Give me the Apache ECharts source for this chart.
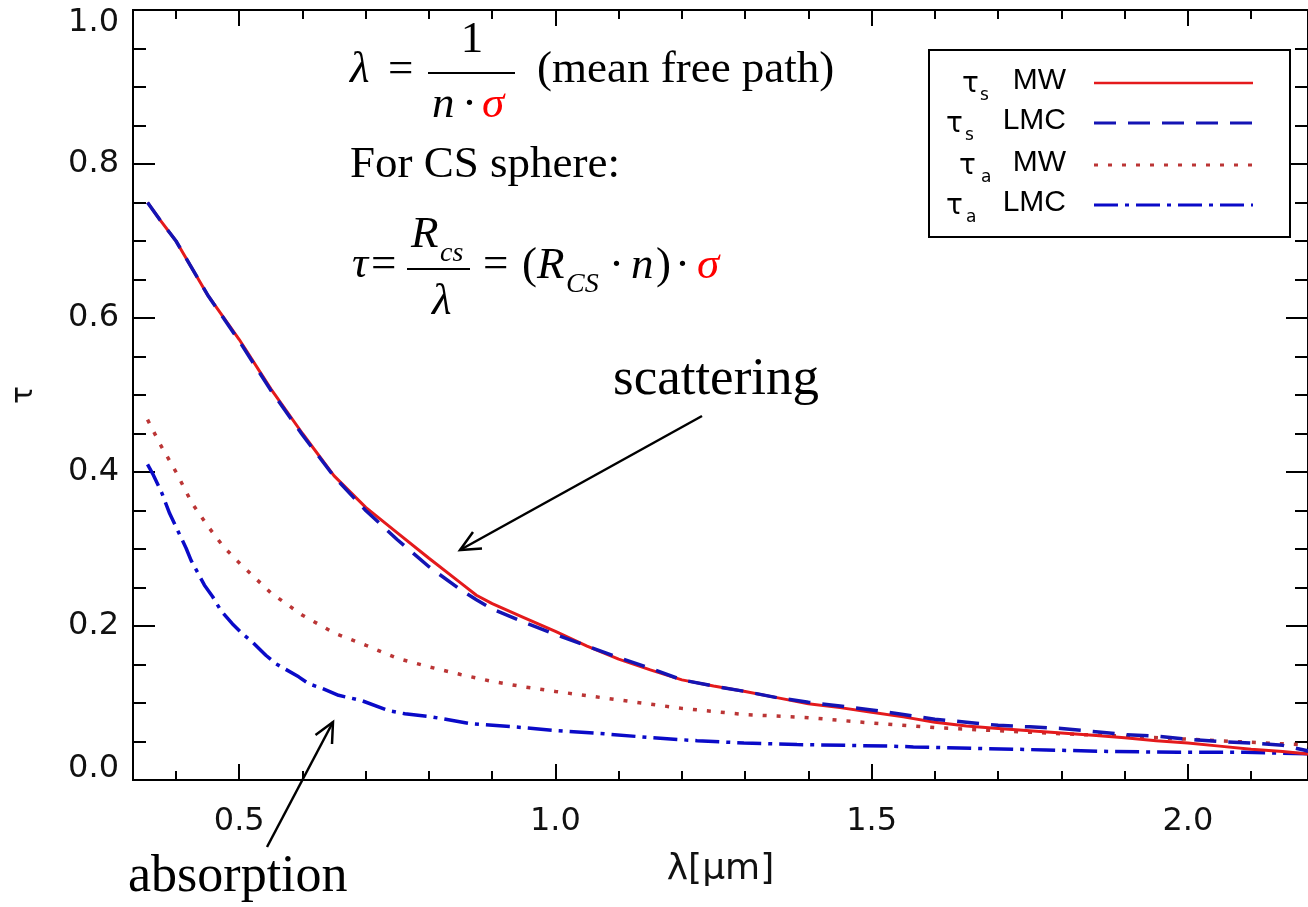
<!DOCTYPE html>
<html><head><meta charset="utf-8">
<script src="https://cdn.jsdelivr.net/npm/echarts@6/dist/echarts.min.js"></script>
<style>html,body{margin:0;padding:0;background:#fff}#c{width:1308px;height:907px}</style>
</head><body><div id="c"></div>
<script>
// ---- data (λ in µm, τ) ----
const sMW_x = [0.355,0.375,0.40,0.45,0.50,0.55,0.60,0.65,0.70,0.75,0.80,0.85,0.875,0.90,0.95,1.00,1.05,1.10,1.15,1.20,1.25,1.30,1.35,1.40,1.45,1.50,1.55,1.60,1.65,1.70,1.75,1.80,1.85,1.90,1.95,2.00,2.05,2.10,2.15,2.20];
const sMW_y = [0.750,0.727,0.700,0.630,0.572,0.508,0.450,0.395,0.354,0.321,0.288,0.256,0.240,0.229,0.211,0.193,0.174,0.157,0.143,0.130,0.122,0.115,0.107,0.099,0.094,0.088,0.082,0.075,0.070,0.067,0.064,0.061,0.058,0.055,0.051,0.048,0.044,0.040,0.037,0.033];

const sLMC_x = [0.355,0.375,0.40,0.45,0.50,0.55,0.60,0.65,0.70,0.75,0.80,0.85,0.875,0.90,0.95,1.00,1.05,1.10,1.15,1.20,1.25,1.30,1.35,1.40,1.45,1.50,1.55,1.60,1.65,1.70,1.75,1.80,1.85,1.90,1.95,2.00,2.05,2.10,2.15,2.20];
const sLMC_y = [0.750,0.727,0.700,0.630,0.570,0.506,0.448,0.394,0.350,0.312,0.277,0.247,0.234,0.222,0.205,0.189,0.174,0.159,0.145,0.130,0.122,0.115,0.107,0.101,0.096,0.091,0.085,0.079,0.075,0.071,0.069,0.067,0.063,0.059,0.057,0.053,0.050,0.048,0.045,0.036];

const aMW_x = [0.355,0.375,0.40,0.425,0.45,0.475,0.50,0.55,0.60,0.65,0.70,0.75,0.80,0.85,0.90,0.95,1.00,1.10,1.20,1.30,1.40,1.50,1.60,1.70,1.80,1.90,2.00,2.10,2.20];
const aMW_y = [0.468,0.436,0.400,0.360,0.330,0.303,0.282,0.243,0.214,0.191,0.175,0.158,0.147,0.137,0.128,0.121,0.115,0.104,0.093,0.085,0.081,0.074,0.068,0.064,0.060,0.057,0.053,0.049,0.045];

const aLMC_x = [0.355,0.363,0.377,0.39,0.405,0.416,0.424,0.445,0.458,0.471,0.489,0.505,0.521,0.542,0.558,0.594,0.61,0.631,0.657,0.694,0.736,0.762,0.804,0.867,0.936,1.004,1.077,1.151,1.224,1.298,1.382,1.461,1.529,1.566,1.67,1.776,1.88,1.985,2.09,2.20];
const aLMC_y = [0.410,0.398,0.374,0.346,0.320,0.301,0.285,0.253,0.238,0.220,0.203,0.190,0.179,0.162,0.151,0.134,0.125,0.119,0.110,0.103,0.090,0.086,0.082,0.073,0.069,0.064,0.060,0.055,0.051,0.048,0.046,0.045,0.044,0.043,0.041,0.039,0.037,0.036,0.036,0.034];

const xMajorTicks = [0.5,1.0,1.5,2.0];
const xMinorTicks = [0.4,0.6,0.7,0.8,0.9,1.1,1.2,1.3,1.4,1.6,1.7,1.8,1.9,2.1];
const legendSub = ['s','s','a','a'];
const legendName = ['MW','LMC','MW','LMC'];

const X_MIN = 0.332, X_MAX = 2.19;
const RED = '#e41a1c', BLUE = '#1414b4', DRED = '#bb3535', DBLUE = '#0a0ac8';
const seriesStyles = [
  {color: RED,  type: 'solid',     width: 3},
  {color: BLUE, type: [22, 12],    width: 3.5},
  {color: DRED, type: [4, 10],     width: 3.5},
  {color: DBLUE,type: [24, 7, 4, 7], width: 3.5}
];

const zip = (xs, ys) => xs.map((x, i) => [x, ys[i]]);
const axisBlack = {color: '#000', width: 2};
const tickFont = {fontFamily: 'DejaVu Sans', fontSize: 32, color: '#111'};

function xAx(pos, vals, len, labels) {
  return {
    type: 'value', min: X_MIN, max: X_MAX, position: pos,
    axisLine: {show: true, onZero: false, lineStyle: axisBlack},
    axisTick: {show: true, inside: true, length: len, customValues: vals, lineStyle: axisBlack},
    axisLabel: labels ? Object.assign({show: true, customValues: vals, margin: 26,
      formatter: v => Number(v).toFixed(1)}, tickFont) : {show: false},
    splitLine: {show: false},
    name: labels ? 'λ[μm]' : '', nameLocation: 'middle', nameGap: 72,
    nameTextStyle: {fontFamily: 'DejaVu Sans', fontSize: 36, color: '#111'}
  };
}
function yAx(pos, labels) {
  return {
    type: 'value', min: 0, max: 1, interval: 0.2, position: pos,
    axisLine: {show: true, onZero: false, lineStyle: axisBlack},
    axisTick: {show: true, inside: true, length: 22, lineStyle: axisBlack},
    minorTick: {show: true, splitNumber: 4, length: 13, lineStyle: axisBlack},
    axisLabel: labels ? Object.assign({show: true, margin: 14,
      formatter: v => v === 0 ? '{lo|' + v.toFixed(1) + '}' : (v === 1 ? '{hi|' + v.toFixed(1) + '}' : v.toFixed(1)),
      rich: {
        lo: Object.assign({padding: [0, 0, 22, 0]}, tickFont),
        hi: Object.assign({padding: [25, 0, 0, 0]}, tickFont)
      }}, tickFont) : {show: false},
    splitLine: {show: false}, minorSplitLine: {show: false},
    name: labels ? 'τ' : '', nameLocation: 'middle', nameGap: 94, nameRotate: 90,
    nameTextStyle: {fontFamily: 'DejaVu Sans', fontSize: 30, color: '#111'}
  };
}

const series = [
  {name: 'τs MW', data: zip(sMW_x, sMW_y)},
  {name: 'τs LMC', data: zip(sLMC_x, sLMC_y)},
  {name: 'τa MW', data: zip(aMW_x, aMW_y)},
  {name: 'τa LMC', data: zip(aLMC_x, aLMC_y)}
].map((s, i) => ({
  type: 'line', name: s.name, data: s.data, showSymbol: false, symbol: 'none',
  xAxisIndex: 0, yAxisIndex: 0, smooth: false, clip: true,
  lineStyle: {color: seriesStyles[i].color, type: seriesStyles[i].type, width: seriesStyles[i].width},
  z: [3, 4, 2, 2][i]
}));

// ---- annotation graphics ----
const SERIF = '"Liberation Serif", "Times New Roman", serif';
function T(text, x, y, size, opt) {
  opt = opt || {};
  return {type: 'text', z: 110, style: {
    text: text, x: x, y: y,
    font: (opt.italic ? 'italic ' : '') + size + 'px ' + (opt.family || SERIF),
    fill: opt.fill || '#000', align: opt.align || 'left', verticalAlign: 'middle'
  }};
}
function L(x1, y1, x2, y2, style) {
  return {type: 'line', z: 110, shape: {x1, y1, x2, y2}, style: Object.assign({stroke: '#000', lineWidth: 2}, style || {})};
}
function P(points, w) {
  return {type: 'polyline', z: 110, shape: {points}, style: {stroke: '#000', lineWidth: w || 2.5, fill: null}};
}
const F = 45;
const graphic = [
  // formula 1
  T('λ', 350, 70, F, {italic: true}),
  T('=', 388, 70, F),
  T('1', 472, 40, F, {align: 'center'}),
  L(428, 73, 515, 73),
  T('n', 432, 105, F, {italic: true}),
  T('·', 462, 105, F),
  T('σ', 482, 105, F, {italic: true, fill: '#ff0000'}),
  T('(mean free path)', 537, 70, F),
  // text line
  T('For CS sphere:', 350, 165, F),
  // formula 3
  T('τ', 352, 265, F, {italic: true}),
  T('=', 371, 265, F),
  T('R', 411, 235, F, {italic: true}),
  T('cs', 440, 254, 28, {italic: true}),
  L(407, 269, 470, 269),
  T('λ', 432, 302, F, {italic: true}),
  T('=', 483, 265, F),
  T('(', 522, 266, F),
  T('R', 537, 266, F, {italic: true}),
  T('CS', 566, 285, 28, {italic: true}),
  T('·', 609, 266, F),
  T('n', 631, 266, F, {italic: true}),
  T(')', 656, 266, F),
  T('·', 675, 266, F),
  T('σ', 697, 266, F, {italic: true, fill: '#ff0000'}),
  // annotations
  T('scattering', 613, 380, 53),
  P([[702, 416], [460, 550]]),
  P([[473, 532], [460, 550], [482, 548.5]]),
  T('absorption', 128, 877, 52),
  P([[267, 847], [333, 722]]),
  P([[315.5, 735], [333, 722], [332, 744]]),
  // legend box
  {type: 'rect', z: 105, shape: {x: 929, y: 50, width: 361, height: 187}, style: {fill: '#fff', stroke: '#000', lineWidth: 2}}
];
const rowY = [81, 121, 163, 203];
const tauX = [962, 946, 959, 946];
const subX = [980, 965, 981, 966];
rowY.forEach((y, i) => {
  graphic.push(T('τ', tauX[i], y + 4, 28, {family: 'DejaVu Sans'}));
  graphic.push(T(legendSub[i], subX[i], y + 15, 17, {family: 'DejaVu Sans'}));
  graphic.push(T(legendName[i], 1066, y, 30, {family: 'Liberation Sans', align: 'right'}));
  const st = seriesStyles[i];
  graphic.push(L(1094, y + 2, 1253, y + 2, {stroke: st.color, lineWidth: i === 0 ? 2.5 : 3,
    lineDash: st.type === 'solid' ? null : st.type}));
});

const chart = echarts.init(document.getElementById('c'), null, {renderer: 'canvas'});
chart.setOption({
  animation: false,
  backgroundColor: '#fff',
  grid: {left: 133, top: 10, width: 1180, height: 770, containLabel: false},
  xAxis: [
    xAx('bottom', xMajorTicks, 16, true),
    xAx('bottom', xMinorTicks, 9, false),
    xAx('top', xMajorTicks, 16, false),
    xAx('top', xMinorTicks, 9, false)
  ],
  yAxis: [yAx('left', true), yAx('right', false)],
  series: series,
  graphic: graphic
});
</script></body></html>
